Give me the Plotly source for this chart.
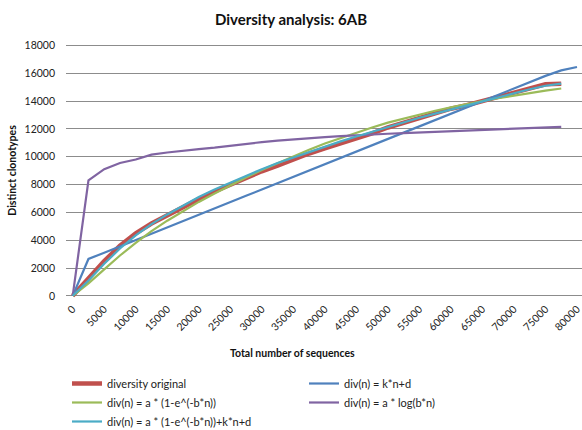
import plotly.graph_objects as go

# Category x values (sequences sampled)
n_main = [0, 2500, 5000, 7500, 10000, 12500, 15000, 17500, 20000, 22500, 25000, 27500,
          30000, 32500, 35000, 37500, 40000, 42500, 45000, 47500, 50000, 52500, 55000,
          57500, 60000, 62500, 65000, 67500, 70000, 72500, 75000, 77500]
n_linear = n_main + [80000]

diversity_original = [0, 1250, 2500, 3600, 4500, 5200, 5800, 6400, 6950, 7500, 8000, 8480,
                      8950, 9350, 9800, 10230, 10600, 10950, 11330, 11680, 12100, 12450, 12780,
                      13120, 13450, 13700, 14000, 14300, 14600, 14980, 15200, 15250]
div_linear = [0, 2650, 3100, 3560, 4010, 4460, 4920, 5370, 5830, 6280, 6730, 7190,
              7640, 8100, 8550, 9000, 9460, 9910, 10360, 10820, 11270, 11730, 12180,
              12630, 13090, 13540, 14000, 14450, 14900, 15360, 15810, 16200, 16450]
div_exp = [0, 900, 1900, 2900, 3800, 4650, 5400, 6100, 6750, 7350, 7950, 8500,
           9050, 9550, 10050, 10500, 10950, 11350, 11750, 12100, 12450, 12750, 13050,
           13300, 13550, 13800, 14000, 14200, 14400, 14600, 14750, 14900]
div_log = [0, 8300, 9100, 9550, 9800, 10150, 10300, 10450, 10550, 10650, 10800, 10950,
           11050, 11150, 11250, 11330, 11400, 11480, 11550, 11600, 11650, 11700, 11750,
           11800, 11850, 11900, 11950, 12000, 12030, 12070, 12110, 12150]
div_exp_lin = [0, 1100, 2300, 3400, 4350, 5150, 5850, 6500, 7100, 7650, 8150, 8650,
               9100, 9550, 9950, 10350, 10750, 11100, 11450, 11800, 12150, 12500, 12800,
               13100, 13400, 13700, 13980, 14250, 14550, 14850, 15100, 15250]

x_ticks = list(range(0, 80001, 5000))
y_ticks = list(range(0, 18001, 2000))

names = ["diversity original", "div(n) = k*n+d", "div(n) = a * (1-e^(-b*n))",
         "div(n) = a * log(b*n)", "div(n) = a * (1-e^(-b*n))+k*n+d"]
colors = ["#C0504D", "#4F81BD", "#9BBB59", "#8064A2", "#4BACC6"]
widths = [4.5, 2.2, 2.2, 2.2, 2.2]
xs = [n_main, n_linear, n_main, n_main, n_main]
ys = [diversity_original, div_linear, div_exp, div_log, div_exp_lin]

FONT = "Lato"
fig = go.Figure()
for name, c, w, x, y in zip(names, colors, widths, xs, ys):
    fig.add_trace(go.Scatter(x=x, y=y, mode="lines", name=name,
                             line=dict(color=c, width=w)))

fig.update_layout(
    width=582, height=430,
    margin=dict(l=66, r=0, t=44.3, b=129.8, autoexpand=False),
    paper_bgcolor="white", plot_bgcolor="white",
    font=dict(family=FONT, size=11, color="#222222"),
    title=dict(text="<b>Diversity analysis: 6AB</b>", x=0.5, xanchor="center",
               xref="container", yref="container", automargin=False,
               y=1 - 20 / 430, yanchor="middle", font=dict(size=15, color="#111111")),
    showlegend=True,
    legend=dict(orientation="h", xref="container", yref="container",
                x=67 / 582, xanchor="left", y=1 - 369 / 430, yanchor="top",
                entrywidth=192, entrywidthmode="pixels", tracegroupgap=0,
                font=dict(size=11, color="#222222"), bgcolor="rgba(0,0,0,0)"),
)
fig.update_xaxes(range=[-1063, 80793], tickvals=x_ticks, ticktext=[str(v) for v in x_ticks],
                 tickangle=-45, showgrid=False, zeroline=False, showline=False,
                 ticklabeloverflow="allow",
                 automargin=False, tickfont=dict(size=10.5), fixedrange=True)
fig.update_yaxes(range=[-300, 18100], tickvals=y_ticks, ticktext=[str(v) for v in y_ticks],
                 showgrid=True, gridcolor="#8c8c8c",
                 gridwidth=1, zeroline=False, showline=False, ticklabelstandoff=10,
                 automargin=False, tickfont=dict(size=10.5), fixedrange=True)

fig.add_annotation(text="<b>Total number of sequences</b>", xref="paper", yref="paper",
                   x=(292 - 66) / 516, y=-(353 - 300.2) / 255.9, showarrow=False,
                   xanchor="center", yanchor="middle", font=dict(size=10.5, color="#111111"))
fig.add_annotation(text="<b>Distinct clonotypes</b>", xref="paper", yref="paper",
                   x=-(66 - 12) / 516, y=(300.2 - 171) / 255.9, showarrow=False, textangle=-90,
                   xanchor="center", yanchor="middle", font=dict(size=10.5, color="#111111"))

fig.write_html("out.html", config={"displayModeBar": False},
               post_script="document.body.style.margin='0';document.body.style.overflow='hidden';")
